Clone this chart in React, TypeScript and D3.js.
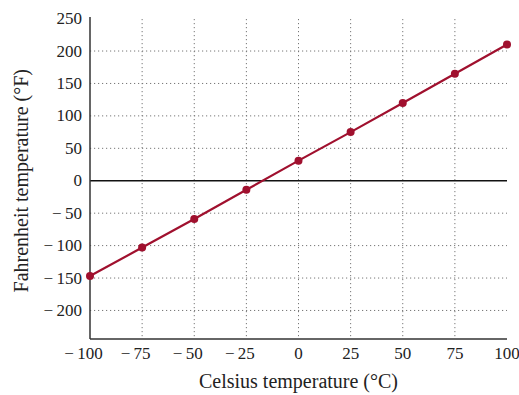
import { useMemo } from 'react';
import * as d3 from 'd3';

const celsius = [-100, -75, -50, -25, 0, 25, 50, 75, 100];
const fahrenheit = [-147, -103, -59, -14, 31, 75, 120, 165, 210];
const xTicks = [-100, -75, -50, -25, 0, 25, 50, 75, 100];
const yTicks = [-200, -150, -100, -50, 0, 50, 100, 150, 200, 250];

const width = 519;
const height = 395;
const red = '#a0102e';
const font = '"Liberation Serif", "DejaVu Serif", serif';
const tickSize = 17;

const fmt = (v: number) => (v < 0 ? `\u2212\u2009${Math.abs(v)}` : `${v}`);

export default function App() {
  const x = useMemo(() => d3.scaleLinear().domain([-100, 100]).range([90, 507]), []);
  const y = useMemo(() => d3.scaleLinear().domain([-244, 250]).range([339, 18.6]), []);

  const line = d3
    .line<number>()
    .x((_, i) => x(celsius[i]))
    .y(d => y(d));

  const x0 = x(-100);
  const x1 = x(100);
  const yb = y(-244);
  const yt = 17;

  return (
    <svg width={width} height={height} style={{ position: 'absolute', left: 0, top: 0 }} fontFamily={font}>
      {/* grid */}
      {xTicks.filter(t => t !== -100 && t !== 100).map(t => (
        <line key={`gx${t}`} x1={x(t)} x2={x(t)} y1={19} y2={yb} stroke="#777" strokeWidth={1} strokeDasharray="1.2,2.8" />
      ))}
      {yTicks.filter(t => t !== 0 && t !== 250).map(t => (
        <line key={`gy${t}`} x1={x0} x2={x1} y1={y(t)} y2={y(t)} stroke="#777" strokeWidth={1} strokeDasharray="1.2,2.8" />
      ))}
      {/* zero line */}
      <line x1={x0} x2={x1} y1={y(0)} y2={y(0)} stroke="#111" strokeWidth={1.3} />
      {/* axes */}
      <line x1={x0} x2={x0} y1={yt} y2={yb} stroke="#333" strokeWidth={1.5} />
      <line x1={x0} x2={x1} y1={yb} y2={yb} stroke="#333" strokeWidth={1.5} />
      {/* tick labels */}
      {yTicks.map(t => (
        <text key={`ty${t}`} x={82} y={y(t)} dy="0.33em" textAnchor="end" fontSize={tickSize} fill="#222">
          {fmt(t)}
        </text>
      ))}
      {xTicks.map(t => {
        const digits = String(Math.abs(t)).length * 0.5 * tickSize;
        return (
          <text key={`tx${t}`} x={x(t) + digits / 2} y={359} textAnchor="end" fontSize={tickSize} fill="#222">
            {fmt(t)}
          </text>
        );
      })}
      {/* titles */}
      <text x={(x0 + x1) / 2} y={388} textAnchor="middle" fontSize={20} fill="#222">
        Celsius temperature (°C)
      </text>
      <text transform={`translate(28, ${y(0)}) rotate(-90)`} textAnchor="middle" fontSize={20} fill="#222">
        Fahrenheit temperature (°F)
      </text>
      {/* data */}
      <path d={line(fahrenheit) ?? ''} fill="none" stroke={red} strokeWidth={2.2} />
      {fahrenheit.map((v, i) => (
        <circle key={`p${i}`} cx={x(celsius[i])} cy={y(v)} r={4} fill={red} />
      ))}
    </svg>
  );
}
